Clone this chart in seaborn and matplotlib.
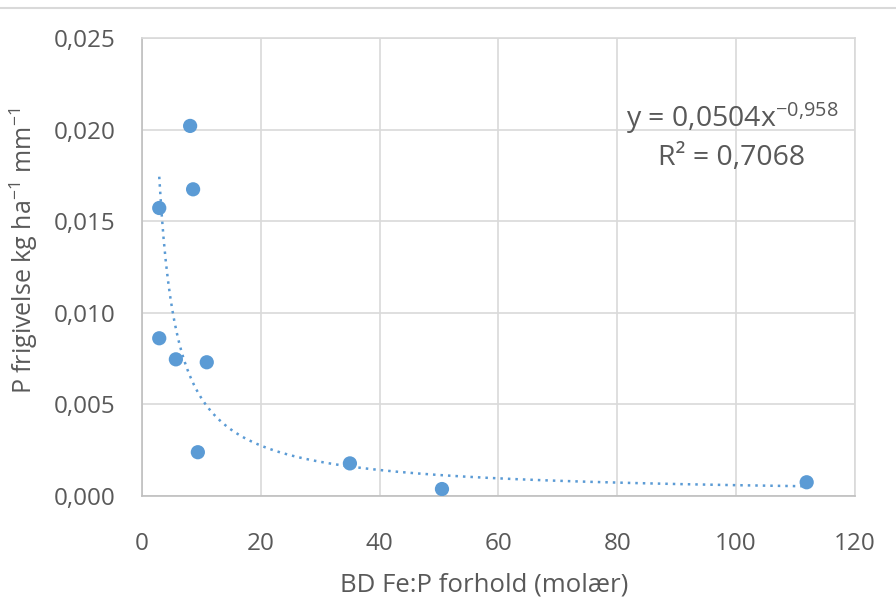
import numpy as np
import pandas as pd
import matplotlib
matplotlib.use("Agg")
import matplotlib.pyplot as plt
import seaborn as sns
from matplotlib.ticker import FuncFormatter
from matplotlib.lines import Line2D

# BD Fe:P ratio (molar) and P release
fe_p = [8.1, 8.6, 2.9, 2.9, 5.7, 10.9, 9.4, 35.0, 50.5, 111.9]
p_release = [0.0202, 0.01674, 0.01572, 0.00861, 0.00746, 0.00730, 0.00239, 0.00178, 0.00038, 0.00075]

df = pd.DataFrame({"x": fe_p, "y": p_release})

sns.set_style("white")
plt.rcParams["font.family"] = ["Open Sans", "DejaVu Sans"]
plt.rcParams["mathtext.default"] = "regular"
grey = "#595959"
blue = "#5b9bd5"

fig = plt.figure(figsize=(8.96, 6.01), dpi=100)
ax = fig.add_axes([0.1585, 0.1747, 0.7955, 0.7621])

# power trendline fitted in log-log space (like Excel)
b, log_a = np.polyfit(np.log(df["x"]), np.log(df["y"]), 1)
xs = np.linspace(df["x"].min(), df["x"].max(), 300)
ax.plot(xs, np.exp(log_a) * xs ** b, color=blue, linestyle=(0, (1, 2)), linewidth=1.8, zorder=2)

sns.scatterplot(data=df, x="x", y="y", ax=ax, color=blue, s=105, edgecolor="none", zorder=3)

ax.set_xlim(0, 120)
ax.set_ylim(0, 0.025)
ax.set_xticks(np.arange(0, 121, 20))
ax.set_yticks(np.arange(0, 0.0251, 0.005))
ax.yaxis.set_major_formatter(FuncFormatter(lambda v, p: f"{v:.3f}".replace(".", ",")))
ax.grid(True, color="#d9d9d9", linewidth=1.2)
ax.set_axisbelow(True)
for s in ax.spines.values():
    s.set_color("#d9d9d9")
    s.set_linewidth(1.2)
ax.spines["left"].set_color("#bfbfbf")
ax.spines["bottom"].set_color("#bfbfbf")
ax.tick_params(axis="both", length=0, labelsize=17.5, labelcolor=grey)
ax.tick_params(axis="y", pad=19)
ax.tick_params(axis="x", pad=26)

ax.set_xlabel("BD Fe:P forhold (molær)", fontsize=18.5, color=grey)
ax.set_ylabel("P frigivelse kg ha$^{-1}$ mm$^{-1}$", fontsize=18, color=grey)
ax.xaxis.set_label_coords(0.48, -0.168)
ax.yaxis.set_label_coords(-0.143, 0.535)

ax.text(99.3, 0.02063, "y = 0,0504x$^{-0{,}958}$", ha="center", va="center", fontsize=20.5, color=grey)
ax.text(99.3, 0.01845, "R² = 0,7068", ha="center", va="center", fontsize=20.5, color=grey)

fig.add_artist(Line2D([0, 1], [1 - 8 / 601, 1 - 8 / 601], color="#d9d9d9", linewidth=1.5))

plt.savefig("out.png", dpi=100)
